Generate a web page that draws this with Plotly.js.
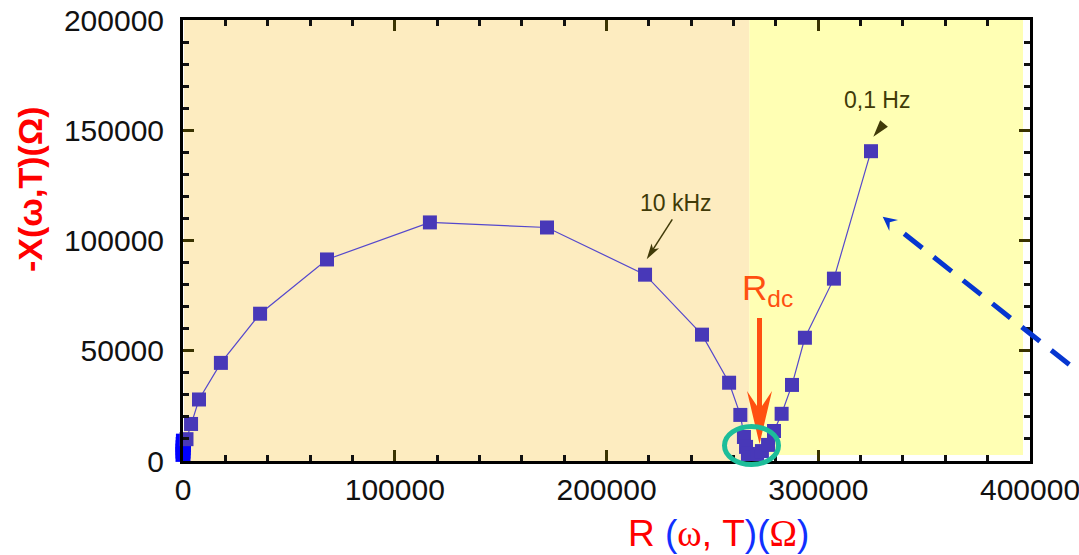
<!DOCTYPE html>
<html><head><meta charset="utf-8">
<script src="https://cdn.plot.ly/plotly-3.0.1.min.js"></script>
<style>html,body{margin:0;padding:0;background:#fff}#chart{width:1079px;height:555px}</style>
</head><body><div id="chart"></div>
<script>
// Main impedance spectrum (purple squares)
const resistance = [1650, 3800, 7550, 17900, 36400, 68000, 116600, 171900, 218200, 245100, 257900, 263200, 264900, 265900, 266800, 268700, 271100, 273400, 276300, 279100, 282700, 287600, 293700, 307400, 324900];
const reactance  = [9900, 16800, 27900, 44500, 66800, 91400, 108200, 105900, 84500, 57300, 35500, 20900, 10900, 6400, 3200, 1800, 2300, 4500, 7300, 13600, 21400, 34500, 55900, 82700, 140500];
// blue points near the origin
const hfResistance = [0, 0, 50, 100, 200];
const hfReactance  = [3000, 4500, 6000, 7500, 9000];
// blue points near R_dc
const dcResistance = [268300, 270300, 272300, 274300, 276000];
const dcReactance  = [-1300, -1300, -1300, -1300, -1300];
// ticks
const xTickVals = [0, 100000, 200000, 300000, 400000];
const xTickText = ['0', '100000', '200000', '300000', '400000'];
const yTickVals = [0, 50000, 100000, 150000, 200000];
const yTickText = ['0', '50000', '100000', '150000', '200000'];

const L = 183, T = 20, W = 847, H = 441;
const PX = v => (v - L) / W;
const PY = v => (T + H - v) / H;
function pathPx(pts) {
  return 'M' + pts.map(p => PX(p[0]).toFixed(5) + ',' + PY(p[1]).toFixed(5)).join('L') + 'Z';
}
function arrow(tip, tail, headLen, halfW, notch, lineStart, color, width, dash) {
  const dx = tail[0] - tip[0], dy = tail[1] - tip[1];
  const d = Math.hypot(dx, dy), ux = dx / d, uy = dy / d, nx = -uy, ny = ux;
  const b1 = [tip[0] + ux * headLen + nx * halfW, tip[1] + uy * headLen + ny * halfW];
  const b2 = [tip[0] + ux * headLen - nx * halfW, tip[1] + uy * headLen - ny * halfW];
  const nt = [tip[0] + ux * notch, tip[1] + uy * notch];
  const s = [tip[0] + ux * lineStart, tip[1] + uy * lineStart];
  const out = [{type: 'path', xref: 'paper', yref: 'paper', path: pathPx([tip, b1, nt, b2]),
    fillcolor: color, line: {width: 0}}];
  if (width > 0) out.push({type: 'line', xref: 'paper', yref: 'paper',
    x0: PX(s[0]), y0: PY(s[1]), x1: PX(tail[0]), y1: PY(tail[1]),
    line: {color: color, width: width, dash: dash || 'solid'}});
  return out;
}

const shapes = [
  {type: 'rect', xref: 'paper', yref: 'paper', layer: 'below', x0: PX(184), x1: PX(749.3), y0: PY(461), y1: PY(17),
   fillcolor: '#fdecc0', line: {width: 0}},
  {type: 'rect', xref: 'paper', yref: 'paper', layer: 'below', x0: PX(749.3), x1: PX(1023), y0: PY(455), y1: PY(17),
   fillcolor: '#ffffb4', line: {width: 0}},
  // orange R_dc arrow
  {type: 'path', xref: 'paper', yref: 'paper',
   path: pathPx([[757, 318], [762, 318], [762, 406], [772, 391], [759.5, 444], [747, 391], [757, 406]]),
   fillcolor: '#ff5010', line: {width: 0}},
  // green ellipse
  {type: 'circle', xref: 'paper', yref: 'paper', x0: PX(724.5), x1: PX(778.5), y0: PY(464.5), y1: PY(426.5),
   line: {color: '#1dbd9a', width: 5}},
  ...arrow([646.7, 259.3], [672.3, 219.3], 16, 4.5, 12, 10, '#403a08', 1.5),
  ...arrow([873.3, 136.7], [886.5, 120.5], 17, 5, 17, 0, '#403a08', 0),
  ...arrow([882.7, 216.7], [1110, 396.8], 14, 7, 9, 27.5, '#0636d0', 5, '23px,14.5px')
];

const base = {xref: 'paper', yref: 'paper', xanchor: 'center', yanchor: 'middle', showarrow: false};
const annotations = [
  Object.assign({}, base, {x: PX(675.7), y: PY(203.3), text: '10 kHz',
   font: {family: 'Liberation Sans, Arial', size: 23, color: '#403a08'}}),
  Object.assign({}, base, {x: PX(876.7), y: PY(100), text: '0,1 Hz',
   font: {family: 'Liberation Sans, Arial', size: 23, color: '#403a08'}}),
  Object.assign({}, base, {x: PX(740), y: PY(290), xanchor: 'left', text: 'R<sub>dc</sub>',
   font: {family: 'Liberation Sans, Arial', size: 35, color: '#ff5010'}}),
  Object.assign({}, base, {x: PX(30), y: PY(190), textangle: -90, text: '-X(ω,T)(Ω)',
   font: {family: 'Liberation Sans, Arial', size: 34, color: '#ff0000', weight: 'bold'}}),
  Object.assign({}, base, {x: PX(718), y: PY(533),
   text: 'R <span style="color:#1030ff">(</span><span style="font-family:Liberation Serif,serif">ω</span>, T<span style="color:#1030ff">)(</span><span style="font-family:Liberation Serif,serif">Ω</span><span style="color:#1030ff">)</span>',
   font: {family: 'Liberation Sans, Arial', size: 37, color: '#ff0000'}})
];

const traces = [
  {x: hfResistance, y: hfReactance, mode: 'markers', type: 'scatter', cliponaxis: false,
   marker: {symbol: 'square', size: 15, color: '#0000ff', line: {width: 0}}, hoverinfo: 'x+y'},
  {x: dcResistance, y: dcReactance, mode: 'markers', type: 'scatter',
   marker: {symbol: 'square', size: 13, color: '#0000ff', line: {width: 0}}, hoverinfo: 'x+y'},
  {x: resistance, y: reactance, mode: 'lines+markers', type: 'scatter', cliponaxis: false,
   line: {color: '#5548cc', width: 1.2},
   marker: {symbol: 'square', size: 14, color: '#4838b8', line: {width: 0}}}
];

const axisCommon = {
  showgrid: false, zeroline: false, showline: true, linecolor: '#000', linewidth: 3, mirror: 'ticks',
  ticks: 'inside', ticklen: 11, tickwidth: 3, tickcolor: '#3a3300', ticklabeloverflow: 'allow',
  tickfont: {family: 'Liberation Sans, Arial', size: 30, color: '#111'}
};
const layout = {
  width: 1079, height: 555, margin: {l: L, r: 1079 - L - W, t: T, b: 555 - T - H},
  paper_bgcolor: '#fff', plot_bgcolor: 'rgba(0,0,0,0)', showlegend: false,
  xaxis: Object.assign({}, axisCommon, {range: [0, 400000], tickmode: 'array', tickvals: xTickVals, ticktext: xTickText,
    ticklabelstandoff: 0,
    minor: {dtick: 20000, tick0: 0, ticks: 'inside', ticklen: 6, tickwidth: 3, tickcolor: '#111'}}),
  yaxis: Object.assign({}, axisCommon, {range: [0, 200000], tickmode: 'array', tickvals: yTickVals, ticktext: yTickText,
    ticklabelstandoff: 10,
    minor: {dtick: 10000, tick0: 0, ticks: 'inside', ticklen: 6, tickwidth: 3, tickcolor: '#111'}}),
  shapes: shapes, annotations: annotations
};
Plotly.newPlot('chart', traces, layout, {displayModeBar: false, staticPlot: true});
</script></body></html>
